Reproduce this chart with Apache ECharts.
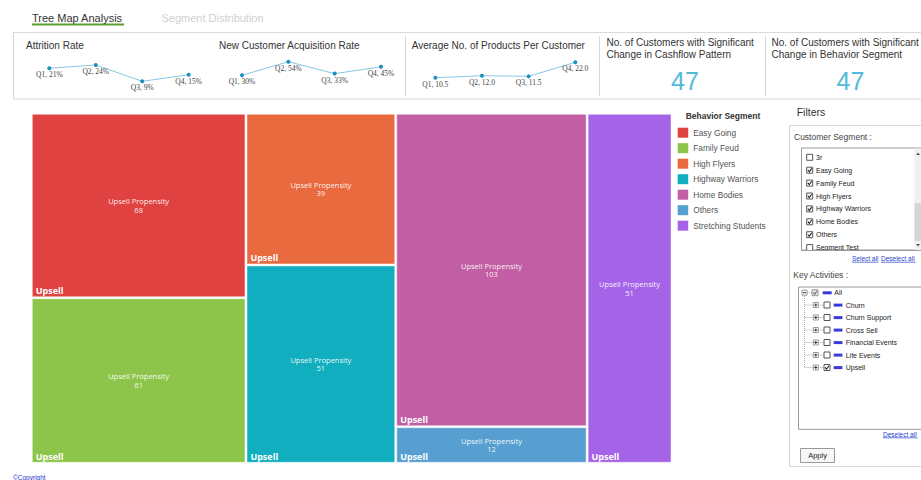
<!DOCTYPE html>
<html><head><meta charset="utf-8">
<script src="https://cdn.jsdelivr.net/npm/echarts@6/dist/echarts.min.js"></script>
<style>html,body{margin:0;padding:0;background:#fff}#c{width:921px;height:480px}</style>
</head><body><div id="c"></div>
<script>
// ---------- data ----------
const segments = ['Easy Going','Family Feud','High Flyers','Highway Warriors','Home Bodies','Others','Stretching Students'];
const upsellPropensity = [68, 61, 39, 51, 103, 12, 51];
const segmentColors = ['#E04242','#8DC54A','#E86A3E','#10AEBE','#C25EA3','#569FD0','#A564E8'];
const columnGroups = [['Easy Going','Family Feud'],['High Flyers','Highway Warriors'],['Home Bodies','Others'],['Stretching Students']];
const quarters = ['Q1','Q2','Q3','Q4'];
const attritionRate = [21, 24, 9, 15];
const acquisitionRate = [30, 54, 33, 45];
const productsPerCustomer = [10.5, 12.0, 11.5, 22.0];
const cashflowChangeCount = 47;
const behaviorChangeCount = 47;
const tabs = ['Tree Map Analysis', 'Segment Distribution'];
const filterSegments = ['3r','Easy Going','Family Feud','High Flyers','Highway Warriors','Home Bodies','Others','Segment Test'];
const filterSegmentChecked = [false,true,true,true,true,true,true,false];
const keyActivities = ['Churn','Churn Support','Cross Sell','Financial Events','Life Events','Upsell'];
const keyActivityChecked = [false,false,false,false,false,true];

// ---------- build mekko-style treemap cells from values ----------
const total = upsellPropensity.reduce((a,b)=>a+b,0);
const cells = [];
let xCursor = 0;
columnGroups.forEach(col => {
  const vals = col.map(n => upsellPropensity[segments.indexOf(n)]);
  const colTotal = vals.reduce((a,b)=>a+b,0);
  let yCursor = 0;
  col.forEach((n,k) => {
    cells[segments.indexOf(n)] = [xCursor, xCursor + colTotal, yCursor/colTotal, (yCursor + vals[k])/colTotal, vals[k]];
    yCursor += vals[k];
  });
  xCursor += colTotal;
});

const SANS = 'Liberation Sans';
const chart = echarts.init(document.getElementById('c'), null, {renderer:'svg'});

// ---------- graphic helpers ----------
const g = [];
function T(x, y, text, o) {
  o = o || {};
  g.push({type:'text', x:x, y:y, silent:true, z:o.z||10, style:{
    text:text, fill:o.color||'#333', fontSize:o.size||10, fontFamily:o.family||SANS,
    fontWeight:o.weight||'normal', align:o.align||'left', textAlign:o.align||'left',
    verticalAlign:'middle', textVerticalAlign:'middle', lineHeight:o.lh}});
}
function R(x, y, w, h, o) {
  o = o || {};
  g.push({type:'rect', silent:true, z:o.z||5, shape:{x:x,y:y,width:w,height:h},
    style:{fill:o.fill||'none', stroke:o.stroke||null, lineWidth:o.lw||1}});
}
function L(x1, y1, x2, y2, o) {
  o = o || {};
  g.push({type:'line', silent:true, z:o.z||6, shape:{x1:x1,y1:y1,x2:x2,y2:y2},
    style:{stroke:o.stroke||'#ccc', lineWidth:o.lw||1, lineDash:o.dash||null}});
}
function checkbox(x, yc, checked, o) {
  o = o || {};
  const s = 6;
  R(x, yc - s/2, s, s, {fill:o.fill||'#fff', stroke:o.stroke||'#555', z:11});
  if (checked) {
    g.push({type:'polyline', silent:true, z:12, shape:{points:[[x+1.2,yc-0.2],[x+2.6,yc+1.6],[x+5,yc-1.8]]},
      style:{stroke:o.mark||'#222', lineWidth:1.1, fill:'none'}});
  }
}
function expander(x, yc, plus) {
  R(x, yc - 2.5, 5, 5, {fill:'#fff', stroke:'#999', z:11});
  L(x+1, yc, x+4, yc, {stroke:'#333', z:12});
  if (plus) L(x+2.5, yc-1.5, x+2.5, yc+1.5, {stroke:'#333', z:12});
}

// tabs
T(32, 17.5, tabs[0], {size:11, color:'#333'});
R(32, 23.5, 92, 2, {fill:'#5AA02C'});
T(161.5, 17.5, tabs[1], {size:11, color:'#cfcfcf'});

// KPI box
R(13.5, 32.5, 930, 66.5, {stroke:'#dadada', lw:1.2});
L(405.5, 36, 405.5, 96, {stroke:'#d9d9d9'});
L(599.5, 36, 599.5, 96, {stroke:'#d9d9d9'});
L(765.5, 36, 765.5, 96, {stroke:'#d9d9d9'});
T(26, 45, 'Attrition Rate', {size:10});
T(219, 45, 'New Customer Acquisition Rate', {size:10});
T(411.7, 45, 'Average No. of Products Per Customer', {size:10});
T(606.5, 48.3, 'No. of Customers with Significant\nChange in Cashflow Pattern', {size:10, lh:12});
T(771.5, 48.3, 'No. of Customers with Significant\nChange in Behavior Segment', {size:10, lh:12});
T(685, 81, String(cashflowChangeCount), {size:25, color:'#53B9D9', align:'center'});
T(850.5, 81, String(behaviorChangeCount), {size:25, color:'#53B9D9', align:'center'});

// legend title
T(685.7, 116, 'Behavior Segment', {size:8.5, weight:'bold', color:'#333'});

// filters panel
T(796.7, 112.3, 'Filters', {size:10.5, color:'#333'});
R(789.5, 125.5, 140, 341, {stroke:'#d5d5d5'});
T(794, 136.7, 'Customer Segment :', {size:8.5, color:'#444'});
R(801.5, 148, 130, 102, {stroke:'#9a9a9a', fill:'#fff', z:4});
filterSegments.forEach((s, i) => {
  const yc = 157.3 + i * 12.9;
  checkbox(806.7, yc, filterSegmentChecked[i]);
  T(816, yc, s, {size:7, color:'#222'});
});
R(802, 250.6, 112, 4, {fill:'#fff', z:20});
L(801.5, 250.5, 921, 250.5, {stroke:'#9a9a9a', z:21});
R(914.5, 148.5, 7, 101.5, {fill:'#f0f0f0', z:13});
R(914.5, 203, 7, 38, {fill:'#d6d6d6', z:14});
g.push({type:'polygon', silent:true, z:15, shape:{points:[[916,155],[920,155],[918,152.5]]}, style:{fill:'#555'}});
g.push({type:'polygon', silent:true, z:15, shape:{points:[[916,244],[920,244],[918,246.5]]}, style:{fill:'#555'}});
T(852, 258.7, 'Select all', {size:6.5, color:'#1f3fcf'});
L(852, 262.2, 878.5, 262.2, {stroke:'#1f3fcf', lw:0.7});
T(881, 258.7, 'Deselect all', {size:6.5, color:'#1f3fcf'});
L(881, 262.2, 915.5, 262.2, {stroke:'#1f3fcf', lw:0.7});

T(793.3, 274.7, 'Key Activities :', {size:8.5, color:'#444'});
R(798.5, 287, 130, 142.3, {stroke:'#9a9a9a', fill:'#fff', z:4});
// tree root
L(804.5, 296, 804.5, 305 + (keyActivities.length-1)*12.5, {stroke:'#aaa', dash:[1,1]});
expander(802, 292.7, false);
L(807, 292.7, 812.3, 292.7, {stroke:'#aaa', dash:[1,1]});
checkbox(812, 292.7, true, {fill:'#e6e6e6', stroke:'#999', mark:'#777'});
R(822.7, 291.3, 9, 3, {fill:'#3a3ad8', z:11});
T(834.3, 292.7, 'All', {size:7, color:'#222'});
keyActivities.forEach((a, j) => {
  const yc = 305 + j * 12.5;
  L(804.5, yc, 813.3, yc, {stroke:'#aaa', dash:[1,1]});
  expander(813.3, yc, true);
  L(818.3, yc, 824, yc, {stroke:'#aaa', dash:[1,1]});
  checkbox(824, yc, keyActivityChecked[j]);
  R(833.7, yc - 1.4, 8.7, 3, {fill:'#3a3ad8', z:11});
  T(845.7, yc, a, {size:7, color:'#222'});
});
T(883, 434.3, 'Deselect all', {size:6.5, color:'#1f3fcf'});
L(883, 437.8, 917.5, 437.8, {stroke:'#1f3fcf', lw:0.7});
R(800.5, 448.5, 34, 14, {stroke:'#999', fill:'#f7f7f7'});
T(817.5, 455.6, 'Apply', {size:7.5, color:'#222', align:'center'});

// copyright
T(13, 477, '\u00A9Copyright', {size:6.5, color:'#2b35d3'});

// ---------- sparklines ----------
function spark(idx, data, fmt) {
  return {
    type:'line', xAxisIndex:idx, yAxisIndex:idx, data:data, silent:true,
    symbol:'circle', symbolSize:4, showSymbol:true,
    lineStyle:{color:'#86C8E2', width:1}, itemStyle:{color:'#1E8DC0'},
    label:{show:true, position:'bottom', distance:0.5,
      formatter: p => quarters[p.dataIndex] + ', ' + fmt(p.value),
      fontFamily:'Liberation Serif', fontSize:7.5, color:'#444'}
  };
}
const sparkGrids = [
  {left:49.3, top:65, width:139.4, height:16.3},
  {left:242, top:61.7, width:139, height:13.6},
  {left:435.3, top:62.3, width:140, height:15.4}
];
const sparkX = sparkGrids.map((_, i) => ({type:'category', gridIndex:i, data:quarters, boundaryGap:false, show:false}));
const sparkY = sparkGrids.map((_, i) => ({type:'value', gridIndex:i, min:'dataMin', max:'dataMax', show:false, scale:true}));

// ---------- treemap cells (custom series on value axes) ----------
const cellSeries = segments.map((name, i) => ({
  type:'custom', name:name, xAxisIndex:3, yAxisIndex:3,
  itemStyle:{color:segmentColors[i]},
  encode:{x:[0,1], y:[2,3]},
  data:[cells[i]],
  renderItem: (params, api) => {
    const a = api.coord([api.value(0), api.value(2)]);
    const b = api.coord([api.value(1), api.value(3)]);
    const x = a[0] + 1, y = a[1] + 1, w = b[0] - a[0] - 2, h = b[1] - a[1] - 2;
    return {type:'group', children:[
      {type:'rect', shape:{x:x, y:y, width:w, height:h},
        style:{fill:api.visual('color'), stroke:'rgba(255,255,255,0.45)', lineWidth:1}},
      {type:'text', x:x + w/2, y:y + h/2,
        style:{text:'Upsell Propensity\n' + api.value(4), fill:'rgba(255,255,255,0.93)',
          fontSize:7.5, fontFamily:'Open Sans', lineHeight:8.7,
          align:'center', textAlign:'center', verticalAlign:'middle', textVerticalAlign:'middle'}},
      {type:'text', x:x + 3.4, y:y + h - 6.3,
        style:{text:'Upsell', fill:'#ffffff', fontSize:9, fontWeight:'bold', fontFamily:'Open Sans',
          align:'left', textAlign:'left', verticalAlign:'middle', textVerticalAlign:'middle'}}
    ]};
  }
}));

chart.setOption({
  animation:false,
  backgroundColor:'#fff',
  grid: sparkGrids.concat([{left:31.3, top:113.3, width:640.7, height:350}]),
  xAxis: sparkX.concat([{type:'value', gridIndex:3, min:0, max:total, show:false}]),
  yAxis: sparkY.concat([{type:'value', gridIndex:3, min:0, max:1, inverse:true, show:false}]),
  legend: {
    data: segments, orient:'vertical', left:677.7, top:127.7, padding:0,
    icon:'rect', itemWidth:10.5, itemHeight:10, itemGap:5.5,
    textStyle:{fontSize:8.3, color:'#555', fontFamily:SANS}, selectedMode:false
  },
  graphic: {elements: g},
  series: [
    spark(0, attritionRate, v => v + '%'),
    spark(1, acquisitionRate, v => v + '%'),
    spark(2, productsPerCustomer, v => v.toFixed(1))
  ].concat(cellSeries)
});
</script></body></html>
